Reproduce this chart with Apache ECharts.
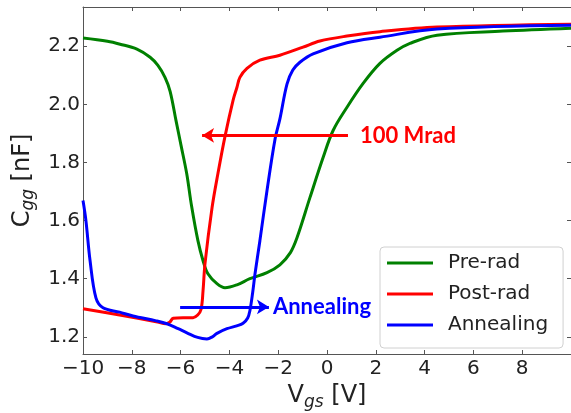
<!DOCTYPE html>
<html>
<head>
<meta charset="utf-8">
<script src="https://cdn.jsdelivr.net/npm/echarts@6/dist/echarts.min.js"></script>
<style>html,body{margin:0;padding:0;background:#fff}#c{width:571px;height:413px}</style>
</head>
<body>
<div id="c"></div>
<script>
// Pre-rad (green)
const preRadV = [-10,-9,-8.48,-7.79,-7.25,-6.93,-6.64,-6.43,-6.19,-5.98,-5.75,-5.55,-5.29,-5.08,-4.88,-4.51,-4.18,-3.69,-3.16,-2.46,-1.93,-1.5,-1.23,-0.70,-0.16,0.25,0.82,1.48,2.17,2.87,3.4,4.51,7.21,10];
const preRadC = [2.228,2.217,2.207,2.190,2.162,2.134,2.093,2.045,1.945,1.858,1.762,1.650,1.531,1.462,1.417,1.383,1.369,1.379,1.400,1.421,1.448,1.490,1.541,1.679,1.817,1.910,1.990,2.072,2.141,2.186,2.210,2.238,2.252,2.262];
// Post-rad (red)
const postRadV = [-10,-8.5,-7,-6.6,-6.45,-6.3,-5.9,-5.49,-5.3,-5.16,-5.08,-5.0,-4.71,-4.47,-4.18,-3.85,-3.69,-3.57,-3.28,-2.75,-1.93,-0.98,-0.29,0.82,2.17,4.51,10];
const postRadC = [1.297,1.275,1.252,1.245,1.250,1.264,1.266,1.266,1.275,1.295,1.359,1.452,1.645,1.762,1.890,2.014,2.059,2.093,2.124,2.152,2.169,2.197,2.218,2.235,2.250,2.266,2.276];
// Annealing (blue)
const annealV = [-10,-9.88,-9.71,-9.47,-9.18,-8.5,-7.95,-7,-6.56,-6.1,-5.74,-5.3,-4.92,-4.7,-4.51,-4.1,-3.7,-3.44,-3.25,-3.16,-3.05,-2.95,-2.75,-2.46,-2.13,-1.93,-1.64,-1.4,-1.11,-0.57,0.82,2.17,4.51,10];
const annealC = [1.669,1.6,1.462,1.334,1.300,1.285,1.272,1.255,1.245,1.228,1.214,1.198,1.193,1.200,1.212,1.228,1.238,1.247,1.265,1.29,1.35,1.417,1.531,1.703,1.880,1.950,2.070,2.118,2.145,2.174,2.212,2.231,2.259,2.272];

const seriesNames = ['Pre-rad', 'Post-rad', 'Annealing'];
const seriesColors = ['#008000', '#ff0000', '#0000ff'];
const xTicks = [-10,-8,-6,-4,-2,0,2,4,6,8];
const yTicks = [1.2,1.4,1.6,1.8,2.0,2.2];

// annotations
const radArrowV = [0.86, -5.12];
const radArrowC = 1.893;
const radText = '100 Mrad';
const annArrowV = [-6.02, -2.38];
const annArrowC = 1.303;
const annText = 'Annealing';

const pairs = (xs, ys) => xs.map((x, i) => [x, ys[i]]);
const fmtMinus = v => (v < 0 ? '\u2212' + Math.abs(v) : String(v));

const axisCol = '#555';
const tickFont = {fontFamily: 'DejaVu Sans', fontSize: 20, color: '#222'};
const nameRich = {
  a: {fontFamily: 'DejaVu Sans', fontSize: 24, color: '#222', lineHeight: 30},
  b: {fontFamily: 'DejaVu Sans', fontSize: 17, fontStyle: 'italic', color: '#222', lineHeight: 17, verticalAlign: 'bottom'}
};
const lineBase = {show: true, onZero: false, lineStyle: {color: axisCol, width: 1}};
const tickBase = {show: true, inside: true, length: 4, lineStyle: {color: axisCol}};

const chart = echarts.init(document.getElementById('c'), null, {renderer: 'canvas'});
chart.setOption({
  animation: false,
  grid: {left: 83, right: 0, top: 7, bottom: 59, containLabel: false, outerBoundsMode: 'none'},
  legend: {
    data: seriesNames,
    orient: 'vertical',
    left: 380, top: 247,
    icon: 'rect',
    itemWidth: 46, itemHeight: 3, itemGap: 11,
    padding: [6, 15, 13, 7],
    borderColor: '#d0d0d0', borderWidth: 1, borderRadius: 4,
    backgroundColor: '#fff',
    textStyle: {fontFamily: 'DejaVu Sans', fontSize: 20, color: '#222', padding: [0, 0, 0, 10], lineHeight: 20}
  },
  xAxis: [{
    type: 'value', min: -10, max: 10, interval: 2,
    axisLine: lineBase, axisTick: Object.assign({customValues: xTicks}, tickBase),
    splitLine: {show: false},
    axisLabel: Object.assign({margin: 5, formatter: fmtMinus, customValues: xTicks}, tickFont),
    name: '{a|V}{b|gs}{a| [V]}', nameLocation: 'middle', nameGap: 22,
    nameTextStyle: {rich: nameRich}
  }, {
    type: 'value', position: 'top', min: -10, max: 10, interval: 2,
    axisLine: lineBase, axisTick: tickBase,
    axisLabel: {show: false}, splitLine: {show: false}
  }],
  yAxis: [{
    type: 'value', min: 1.141, max: 2.335,
    axisLine: lineBase, axisTick: Object.assign({customValues: yTicks}, tickBase),
    splitLine: {show: false},
    axisLabel: Object.assign({margin: 3, customValues: yTicks, formatter: v => v.toFixed(1)}, tickFont),
    name: '{a|C}{b|gg}{a| [nF]}', nameLocation: 'middle', nameGap: 40,
    nameTextStyle: {rich: nameRich}
  }, {
    type: 'value', position: 'right', min: 1.141, max: 2.335,
    axisLine: lineBase, axisTick: Object.assign({customValues: yTicks}, tickBase),
    axisLabel: {show: false}, splitLine: {show: false}
  }],
  series: [
    {name: seriesNames[0], type: 'line', data: pairs(preRadV, preRadC), showSymbol: false, symbol: 'none',
      smooth: 0.35, lineStyle: {width: 3, color: seriesColors[0]}, itemStyle: {color: seriesColors[0]}},
    {name: seriesNames[1], type: 'line', data: pairs(postRadV, postRadC), showSymbol: false, symbol: 'none',
      smooth: 0.35, lineStyle: {width: 3, color: seriesColors[1]}, itemStyle: {color: seriesColors[1]}},
    {name: seriesNames[2], type: 'line', data: pairs(annealV, annealC), showSymbol: false, symbol: 'none',
      smooth: 0.35, lineStyle: {width: 3, color: seriesColors[2]}, itemStyle: {color: seriesColors[2]}},
    {name: 'radArrow', type: 'line', data: [], silent: true,
      markLine: {silent: true, symbol: ['none', 'arrow'], symbolSize: [11, 12],
        lineStyle: {color: seriesColors[1], width: 3, type: 'solid'}, label: {show: false},
        data: [[{coord: [radArrowV[0], radArrowC]}, {coord: [radArrowV[1], radArrowC]}]]},
      markPoint: {symbol: 'circle', symbolSize: 0, silent: true,
        label: {show: true, position: 'right', distance: 12, formatter: radText,
          fontFamily: 'Lato', fontWeight: 'bold', fontSize: 22, color: seriesColors[1]},
        data: [{coord: [radArrowV[0], radArrowC]}]}},
    {name: 'annArrow', type: 'line', data: [], silent: true,
      markLine: {silent: true, symbol: ['none', 'arrow'], symbolSize: [11, 12],
        lineStyle: {color: seriesColors[2], width: 3, type: 'solid'}, label: {show: false},
        data: [[{coord: [annArrowV[0], annArrowC]}, {coord: [annArrowV[1], annArrowC]}]]},
      markPoint: {symbol: 'circle', symbolSize: 0, silent: true,
        label: {show: true, position: 'right', distance: 4, formatter: annText,
          fontFamily: 'Lato', fontWeight: 'bold', fontSize: 22, color: seriesColors[2]},
        data: [{coord: [annArrowV[1], annArrowC]}]}}
  ]
});
</script>
</body>
</html>
